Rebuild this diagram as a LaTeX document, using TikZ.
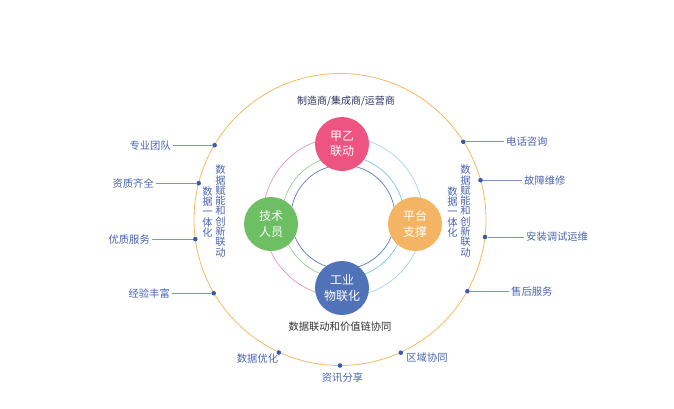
\documentclass[tikz,border=0pt]{standalone}
\usepackage{fontspec}
\setmainfont{Noto Sans CJK SC}
\definecolor{ringorange}{HTML}{F5B961}
\definecolor{npink}{HTML}{EE5482}
\definecolor{ngreen}{HTML}{6EBE64}
\definecolor{norange}{HTML}{F3B464}
\definecolor{nblue}{HTML}{4F72B8}
\definecolor{rpink}{HTML}{EE93AE}
\definecolor{rlblue}{HTML}{A3D4EE}
\definecolor{rgreen}{HTML}{8FD293}
\definecolor{rcyan}{HTML}{6FCCE0}
\definecolor{rblue}{HTML}{5D78C0}
\definecolor{lblblue}{HTML}{4A63AE}
\definecolor{dotblue}{HTML}{3A5BA8}
\definecolor{lineblue}{HTML}{7B93CF}
\definecolor{navytxt}{HTML}{2E2E5E}
\tikzset{
  hub/.style={circle,minimum size=54pt,inner sep=0pt,text=white,align=center,
    font=\fontsize{12}{15.5}\selectfont},
  dotn/.style={circle,fill=dotblue,inner sep=0pt,minimum size=4.6pt},
  lbl/.style={text=lblblue,font=\fontsize{10.3}{12}\selectfont,inner sep=2pt},
  vtext/.style={text=lblblue,align=center,inner sep=0pt,font=\fontsize{10.3}{10.3}\selectfont},
  conn/.style={draw=lineblue,line width=0.8pt},
  ring/.style={line width=0.7pt}
}
\begin{document}
\begin{tikzpicture}[x=1pt,y=-1pt]
\useasboundingbox (0,0) rectangle (674,408);
% outer circle
\coordinate (C) at (340,219.5);
\draw[ringorange,line width=0.8pt] (C) circle[radius=146pt];
% inner rings
\coordinate (R) at (343,217);
\draw[ring,rpink] (R) ++(90:80pt) arc[start angle=90,end angle=270,radius=80pt];
\draw[ring,rlblue] (R) ++(-90:80pt) arc[start angle=-90,end angle=90,radius=80pt];
\draw[ring,rgreen] (R) ++(90:61pt) arc[start angle=90,end angle=270,radius=61pt];
\draw[ring,rcyan] (R) ++(-90:61pt) arc[start angle=-90,end angle=90,radius=61pt];
\draw[ring,rblue] (R) circle[radius=52pt];
% hubs
\node[hub,fill=npink] (top) at (342,144) {甲乙\\联动};
\node[hub,fill=ngreen] (left) at (271,224) {技术\\人员};
\node[hub,fill=norange] (right) at (415,224) {平台\\支撑};
\node[hub,fill=nblue] (bottom) at (342,288) {工业\\物联化};
% captions
\node[text=navytxt,font=\fontsize{10}{12}\selectfont,inner sep=0pt] (cap1) at (346,101) {制造商/集成商/运营商};
\node[text=black!80,font=\fontsize{10.3}{12}\selectfont,inner sep=0pt] (cap2) at (340,327) {数据联动和价值链协同};
% vertical texts
\node[vtext] (vl1) at (220.5,211) {数\\据\\赋\\能\\和\\创\\新\\联\\动};
\node[vtext] (vl2) at (207.5,212) {数\\据\\一\\体\\化};
\node[vtext] (vr1) at (465.5,211) {数\\据\\赋\\能\\和\\创\\新\\联\\动};
\node[vtext] (vr2) at (452.5,212) {数\\据\\一\\体\\化};
% dots
\node[dotn] (d1) at (214.6,145.2) {};
\node[dotn] (d2) at (198.7,183.2) {};
\node[dotn] (d3) at (195.3,239.1) {};
\node[dotn] (d4) at (213.7,293.2) {};
\node[dotn] (d5) at (278.8,352.5) {};
\node[dotn] (d6) at (340,365.5) {};
\node[dotn] (d7) at (400.8,352.7) {};
\node[dotn] (d8) at (467.4,291.2) {};
\node[dotn] (d9) at (485.0,237.0) {};
\node[dotn] (d10) at (480.5,180.2) {};
\node[dotn] (d11) at (463.3,141.8) {};
% left labels
\node[lbl,anchor=east] (l1) at (173,145.2) {专业团队};
\node[lbl,anchor=east] (l2) at (156,183.2) {资质齐全};
\node[lbl,anchor=east] (l3) at (152,239.1) {优质服务};
\node[lbl,anchor=east] (l4) at (172,293.2) {经验丰富};
\draw[conn] (d1) -- (l1.east);
\draw[conn] (d2) -- (l2.east);
\draw[conn] (d3) -- (l3.east);
\draw[conn] (d4) -- (l4.east);
% right labels
\node[lbl,anchor=west] (r1) at (504,141.8) {电话咨询};
\node[lbl,anchor=west] (r2) at (522,180.2) {故障维修};
\node[lbl,anchor=west] (r3) at (524,237.0) {安装调试运维};
\node[lbl,anchor=west] (r4) at (509,291.2) {售后服务};
\draw[conn] (d11) -- (r1.west);
\draw[conn] (d10) -- (r2.west);
\draw[conn] (d9) -- (r3.west);
\draw[conn] (d8) -- (r4.west);
% bottom labels
\node[lbl] (b1) at (257.5,359) {数据优化};
\node[lbl] (b2) at (342.5,378) {资讯分享};
\node[lbl] (b3) at (427,358) {区域协同};
\end{tikzpicture}
\end{document}
